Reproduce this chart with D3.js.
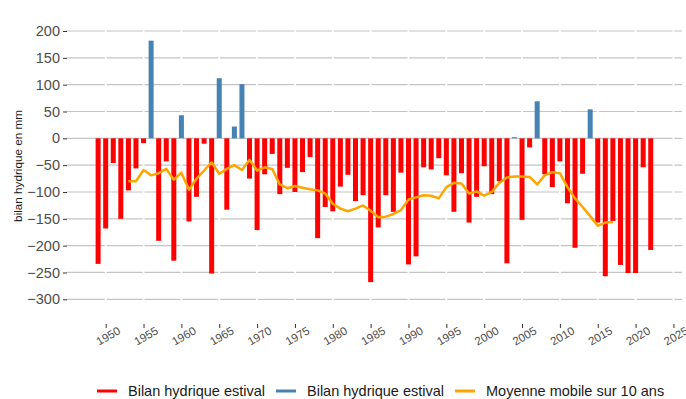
<!DOCTYPE html>
<html>
<head>
<meta charset="utf-8">
<script src="https://cdn.jsdelivr.net/npm/d3@7"></script>
<style>
body { margin: 0; background: #fff; }
svg { font-family: "Liberation Sans", Arial, sans-serif; }
</style>
</head>
<body>
<svg id="chart" width="686" height="399"></svg>
<script>
const years = d3.range(1949, 2023);
const bilan = [
  -234, -168, -46, -150, -97, -56, -9, 182, -191, -43,
  -228, 43, -155, -109, -10, -252, 112, -133, 22, 101,
  -75, -171, -67, -29, -104, -55, -100, -63, -35, -186,
  -128, -136, -90, -68, -117, -106, -268, -166, -106, -137,
  -64, -235, -220, -54, -58, -37, -69, -137, -65, -157,
  -109, -52, -104, -80, -233, 2, -152, -17, 69, -67,
  -91, -43, -121, -204, -66, 54, -157, -257, -154, -236,
  -251, -251, -54, -208
];
const maYears = d3.range(1953, 2018);
const maValues = [
  -80, -80, -59, -69, -65, -57, -77, -64, -96, -75,
  -60, -45, -66, -57, -50, -59, -40, -60, -54, -57,
  -86, -93, -89, -92, -95, -97, -103, -122, -131, -136,
  -131, -125, -135, -147, -146, -141, -134, -114, -110, -106,
  -107, -112, -91, -83, -84, -103, -99, -107, -100, -83,
  -73, -71, -71, -72, -86, -69, -63, -65, -91, -112,
  -128, -145, -163, -157, -156
];
const yTicks = [200, 150, 100, 50, 0, -50, -100, -150, -200, -250, -300];
const xTicks = d3.range(1950, 2030, 5);
const legendItems = [
  {label: "Bilan hydrique estival", color: "#FF0000"},
  {label: "Bilan hydrique estival", color: "#4682B4"},
  {label: "Moyenne mobile sur 10 ans", color: "#FFA500"}
];

const svg = d3.select("#chart");
const x = d3.scaleLinear().domain([1944.89, 2026.13]).range([67, 682]);
const y = d3.scaleLinear().domain([-300, 200]).range([299.3, 31]);
const plotTop = 20, plotBottom = 312;

// horizontal gridlines
svg.append("g").selectAll("line").data(yTicks).join("line")
  .attr("x1", 67).attr("x2", 682)
  .attr("y1", d => y(d)).attr("y2", d => y(d))
  .attr("stroke", "#c4c4c4").attr("stroke-width", 1.2);

// white vertical separators
svg.append("g").selectAll("line").data(xTicks).join("line")
  .attr("x1", d => x(d)).attr("x2", d => x(d))
  .attr("y1", plotTop).attr("y2", plotBottom)
  .attr("stroke", "#ffffff").attr("stroke-width", 1.8);

// y axis
const yAxis = d3.axisLeft(y).tickValues(yTicks).tickSize(4).tickPadding(3).tickFormat(d3.format("d"));
const gy = svg.append("g").attr("transform", "translate(67,0)").call(yAxis);
gy.select(".domain").remove();
gy.selectAll(".tick line").attr("stroke", "#333").attr("stroke-width", 1);
gy.selectAll(".tick text").attr("fill", "#4d4d4d").style("font-size", "14.5px")
  .style("font-family", "Liberation Sans, Arial, sans-serif");

// x axis
const xAxis = d3.axisBottom(x).tickValues(xTicks).tickSize(4).tickFormat(d3.format("d"));
const gx = svg.append("g").attr("transform", "translate(0,324)").call(xAxis);
gx.select(".domain").remove();
gx.selectAll(".tick line").attr("stroke", "#333").attr("stroke-width", 1);
gx.selectAll(".tick text")
  .attr("fill", "#4d4d4d").style("font-size", "11.5px")
  .style("font-family", "Liberation Sans, Arial, sans-serif")
  .attr("text-anchor", "middle").attr("dy", null).attr("y", 0)
  .attr("transform", "translate(2,12) rotate(-30)")
  .attr("dominant-baseline", "central");

// bars
const bw = 5;
svg.append("g").selectAll("rect").data(years.map((yr, i) => ({yr, v: bilan[i]}))).join("rect")
  .attr("x", d => x(d.yr) - bw / 2)
  .attr("width", bw)
  .attr("y", d => d.v >= 0 ? y(d.v) : y(0))
  .attr("height", d => Math.abs(y(d.v) - y(0)))
  .attr("fill", d => d.v >= 0 ? "#4682B4" : "#FF0000");

// moving average line
const line = d3.line().x(d => x(d.yr)).y(d => y(d.v));
svg.append("path")
  .datum(maYears.map((yr, i) => ({yr, v: maValues[i]})))
  .attr("d", line)
  .attr("fill", "none").attr("stroke", "#FFA500").attr("stroke-width", 2.5)
  .attr("stroke-linejoin", "round");

// y title
svg.append("text")
  .attr("transform", "translate(22,166) rotate(-90)")
  .attr("text-anchor", "middle")
  .style("font-size", "11.7px").attr("fill", "#1a1a1a")
  .text("bilan hydrique en mm");

// legend
const legX = [97, 276, 455];
const lg = svg.append("g");
legendItems.forEach((it, i) => {
  lg.append("line").attr("x1", legX[i]).attr("x2", legX[i] + 20)
    .attr("y1", 391).attr("y2", 391)
    .attr("stroke", it.color).attr("stroke-width", 3);
  lg.append("text").attr("x", legX[i] + 31).attr("y", 396)
    .style("font-size", "14.5px").attr("fill", "#1a1a1a").text(it.label);
});
</script>
</body>
</html>
